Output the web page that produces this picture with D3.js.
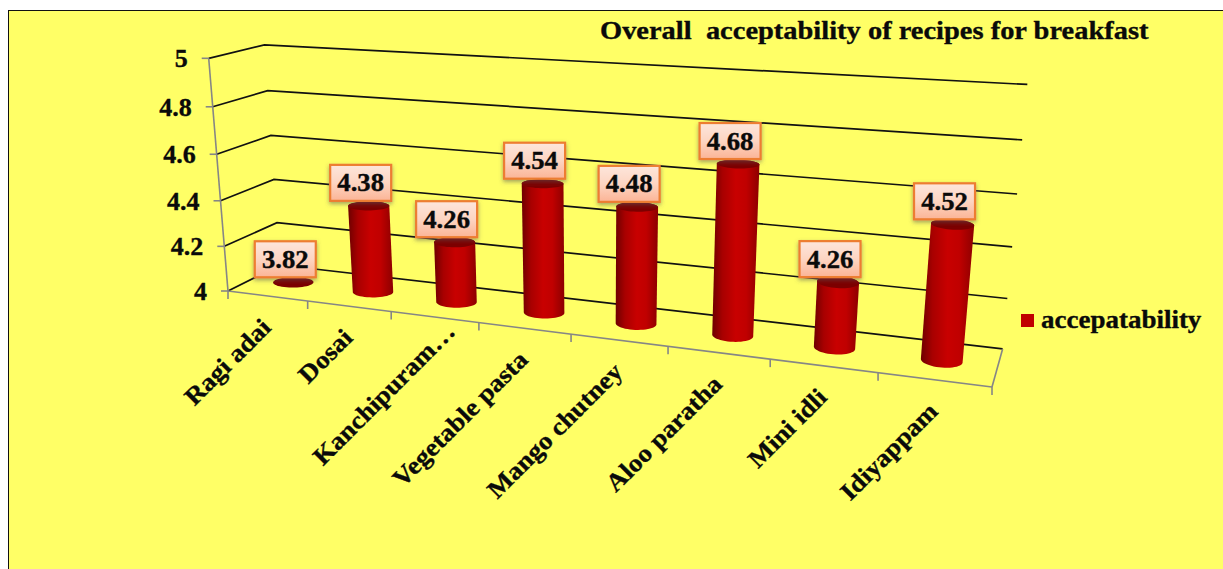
<!DOCTYPE html>
<html>
<head>
<meta charset="utf-8">
<script src="https://cdn.jsdelivr.net/npm/d3@7"></script>
<style>
html,body{margin:0;padding:0;background:#fff;overflow:hidden}
svg{display:block}
text{font-family:"Liberation Serif",serif;font-weight:bold;fill:#0a0a0a;stroke:#0a0a0a;stroke-width:0.35px;white-space:pre}
</style>
</head>
<body>
<svg id="chart" width="1223" height="569"></svg>
<script>
// Chart content
const categories = ["Ragi adai","Dosai","Kanchipuram…","Vegetable pasta","Mango chutney","Aloo paratha","Mini idli","Idiyappam"];
const values = [3.82,4.38,4.26,4.54,4.48,4.68,4.26,4.52];
const valueTicks = [4,4.2,4.4,4.6,4.8,5];
const seriesName = "accepatability";
const chartTitle = "Overall  acceptability of recipes for breakfast";

// Camera: where the corners of the 3D box land, plus the perspective falloff on each axis
const origin = [228,291], endU = [992,387], endD = [280,265], endV = [208.7,58.3];
const falloff = {u:-0.185, d:0.06, v:-0.05};

const uScale = d3.scaleLinear().domain([0,categories.length]).range([0,1]);
const vScale = d3.scaleLinear().domain([4,5]).range([0,1]).clamp(true);

// Projects box coordinates (all 0..1) to the screen
function project(u,d,v){
  const den = 1 + falloff.u*u + falloff.d*d + falloff.v*v;
  const axis = i => origin[i]
    + (endU[i]*(1+falloff.u)-origin[i])*u
    + (endD[i]*(1+falloff.d)-origin[i])*d
    + (endV[i]*(1+falloff.v)-origin[i])*v;
  return [axis(0)/den, axis(1)/den];
}
const pt = p => p[0].toFixed(2)+","+p[1].toFixed(2);
const seg = (a,b) => "M"+pt(a)+"L"+pt(b);

const svg = d3.select("#chart");
const defs = svg.append("defs");

const barGrad = defs.append("linearGradient").attr("id","cyl");
[[0,"#6e0000"],[0.22,"#a80000"],[0.5,"#c80000"],[0.72,"#c00000"],[1,"#8c0000"]]
  .forEach(([o,c])=>barGrad.append("stop").attr("offset",o).attr("stop-color",c));

const labelGrad = defs.append("linearGradient").attr("id","tag").attr("x2",0).attr("y2",1);
[[0,"#fde6dc"],[0.5,"#fdd5c2"],[1,"#fbb496"]]
  .forEach(([o,c])=>labelGrad.append("stop").attr("offset",o).attr("stop-color",c));

defs.append("filter").attr("id","tagShadow").attr("x","-20%").attr("y","-20%").attr("width","140%").attr("height","150%")
  .append("feDropShadow").attr("dx",0).attr("dy",2).attr("stdDeviation",2)
  .attr("flood-color","#555").attr("flood-opacity",0.55);

// Panel
svg.append("rect").attr("x",8.5).attr("y",10.5).attr("width",1300).attr("height",700)
  .attr("fill","#ffff66").attr("stroke","#111").attr("stroke-width",1);

// Gridlines on the side and back walls, plus the back edge of the floor
const grid = svg.append("g").attr("fill","none").attr("stroke","#111").attr("stroke-width",1.7);
grid.selectAll("path").data(valueTicks).join("path")
  .attr("d",t=>{const v=vScale(t);return "M"+pt(project(0,0,v))+"L"+pt(project(0,1,v))+"L"+pt(project(1,1,v));});

// Axes
const axes = svg.append("g").attr("fill","none").attr("stroke","#868686").attr("stroke-width",1.6);
axes.append("path").attr("d",seg(project(0,0,0),project(0,0,1)));
axes.append("path").attr("d",seg(project(0,0,0),project(1,0,0)));
axes.append("path").attr("d",seg(project(1,0,0),project(1,1,0)));
axes.selectAll(".vt").data(valueTicks).join("path").attr("class","vt")
  .attr("d",t=>{const p=project(0,0,vScale(t));return seg([p[0]-7,p[1]],p);});
axes.selectAll(".ut").data(d3.range(categories.length+1)).join("path").attr("class","ut")
  .attr("d",i=>{const p=project(uScale(i),0,0);return seg(p,[p[0],p[1]+8]);});

// Stretched bold text
function label(g,x,y,str,size,stretch,anchor,rotate){
  return g.append("text")
    .attr("transform",`translate(${x},${y})`+(rotate?` rotate(${rotate})`:"")+` scale(${stretch},1)`)
    .attr("text-anchor",anchor).attr("font-size",size).text(str);
}

// Value axis labels
const vLabels = svg.append("g");
valueTicks.forEach(t=>{
  const p = project(0,0,vScale(t));
  label(vLabels,p[0]-21,p[1]+9,String(t),26,1.0,"end");
});

// Cylinders, each built from its two projected end circles; the radius tapers
// toward the near end so the on-screen widths stay close together
const radD = 0.18;
const radU = c => (0.235 - 0.05*uScale(c))/categories.length;
const circle = (uc,v) => d3.range(0,48).map(k=>{
  const a = k/48*2*Math.PI;
  return project(uScale(uc)+radU(uc)*Math.cos(a), 0.5+radD*Math.sin(a), v);
});
const line = d3.line().curve(d3.curveLinearClosed);

const bars = svg.append("g");
values.forEach((val,i)=>{
  const v = vScale(val);
  const top = circle(i+0.5,v), bottom = circle(i+0.5,0);
  if(val>4){
    bars.append("path").attr("d",line(d3.polygonHull(top.concat(bottom)))).attr("fill","url(#cyl)");
  }
  bars.append("path").attr("d",line(top)).attr("fill","#7c0000");
});

// Value tags above each bar
const tagW = 61, tagH = 36;
const tags = svg.append("g");
values.forEach((val,i)=>{
  const c = project(uScale(i+0.5),0.5,vScale(val));
  const cx = c[0]-8, cy = c[1]-23;
  tags.append("rect").attr("x",cx-tagW/2).attr("y",cy-tagH/2).attr("width",tagW).attr("height",tagH)
    .attr("fill","url(#tag)").attr("stroke","#ed7d31").attr("stroke-width",2.2)
    .attr("filter","url(#tagShadow)");
  label(tags,cx,cy+8.5,val.toFixed(2),25,1.07,"middle");
});

// Category labels, slanted along the front edge; a truncated name sits further along its slant
const cats = svg.append("g");
categories.forEach((name,i)=>{
  const p = project(uScale(i+0.5),0,0);
  const nudge = name.endsWith("…") ? 17 : 0;
  label(cats,p[0]+5+nudge,p[1]+33-nudge,name,25,1.08,"end",-45);
});

// Title
label(svg,600,39,chartTitle,26,1.095,"start");

// Legend
svg.append("rect").attr("x",1021).attr("y",314).attr("width",13).attr("height",13).attr("fill","#c00000");
label(svg,1041,328,seriesName,25,1.08,"start");
</script>
</body>
</html>
